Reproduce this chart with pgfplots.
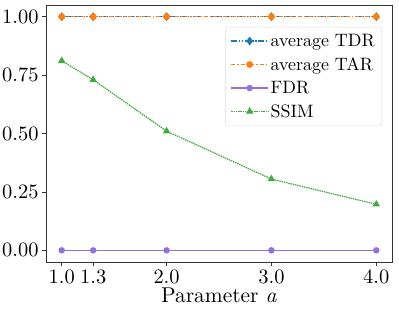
\documentclass[border=0pt]{standalone}
\usepackage{fontspec}
\setmainfont{lmroman10-regular.otf}[ItalicFont=lmroman10-italic.otf, BoldFont=lmroman10-bold.otf]
\usepackage{pgfplots}
\pgfplotsset{compat=1.18}
\definecolor{tblue}{HTML}{1F77B4}
\definecolor{torange}{HTML}{FF7F0E}
\definecolor{tpurple}{HTML}{9370DB}
\definecolor{tgreen}{HTML}{2CA02C}
\begin{document}
\begin{tikzpicture}
\begin{axis}[
  scale only axis, width=346bp, height=257bp,
  xmin=0.85, xmax=4.15, ymin=-0.05, ymax=1.05,
  xtick={1.0,1.3,2.0,3.0,4.0},
  ytick={0,0.25,0.5,0.75,1.0},
  /pgf/number format/assume math mode=true,
  xticklabel style={/pgf/number format/.cd,fixed,fixed zerofill,precision=1,assume math mode=true},
  yticklabel style={/pgf/number format/.cd,fixed,fixed zerofill,precision=2,assume math mode=true},
  ticklabel style={font=\fontsize{20.5}{22}\selectfont},
  tick align=outside, xtick pos=bottom, ytick pos=left,
  major tick length=4bp,
  every tick/.style={black!80, line width=0.6pt},
  axis line style={black!80, line width=0.6pt},
  xlabel={Parameter \textit{a}},
  xlabel style={font=\fontsize{21.5}{23}\selectfont, yshift=3bp},
  legend style={at={(rel axis cs:1,1)}, anchor=north east, xshift=-10bp, yshift=-22bp,
    draw=black!15, rounded corners=2pt, font=\fontsize{18}{20}\selectfont,
    row sep=5.5pt, inner sep=5pt},
  legend cell align=left,
  legend image code/.code={\draw[mark repeat=2,mark phase=2] plot coordinates {(0cm,0cm) (0.65cm,0cm) (1.3cm,0cm)};},
]
\addplot[tblue, line width=1.2pt, dash pattern=on 6pt off 1.5pt on 1.5pt off 1.5pt on 1.5pt off 1.5pt,
  mark=diamond*, mark size=3.5pt, mark options={solid}] coordinates {(1.0,1) (1.3,1) (2.0,1) (3.0,1) (4.0,1)};
\addlegendentry{average TDR}
\addplot[torange, line width=1.2pt, dash pattern=on 4pt off 2pt on 1.5pt off 2pt,
  mark=*, mark size=2.8pt, mark options={solid}] coordinates {(1.0,1) (1.3,1) (2.0,1) (3.0,1) (4.0,1)};
\addlegendentry{average TAR}
\addplot[tpurple, line width=1.2pt, mark=*, mark size=2.6pt] coordinates {(1.0,0) (1.3,0) (2.0,0) (3.0,0) (4.0,0)};
\addlegendentry{FDR}
\addplot[tgreen!90!white, line width=1.2pt, dash pattern=on 1.5pt off 0.8pt,
  mark=triangle*, mark size=3.2pt, mark options={solid}] coordinates {(1.0,0.811) (1.3,0.730) (2.0,0.510) (3.0,0.305) (4.0,0.197)};
\addlegendentry{SSIM}
\end{axis}
\pgfresetboundingbox
\path[use as bounding box] (current axis.south west) ++(-46bp,-53bp) rectangle ++(399bp,315bp);
\end{tikzpicture}
\end{document}
